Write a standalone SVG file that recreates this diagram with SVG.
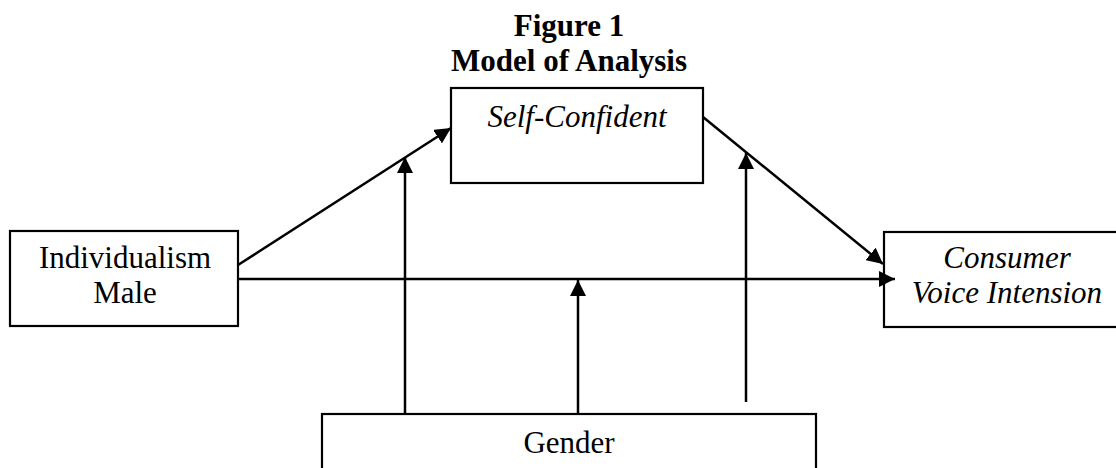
<svg xmlns="http://www.w3.org/2000/svg" width="1116" height="468" viewBox="0 0 1116 468">
<style>
.box{fill:#fff;stroke:#000;stroke-width:2.2}
.t{font-family:'Liberation Serif','Times New Roman',serif;font-size:31px;fill:#000;text-anchor:middle}
.b{font-weight:bold}
.i{font-style:italic}
.c{stroke:#000;stroke-width:2.5;fill:none;marker-end:url(#ah)}
</style>
<defs>
<marker id="ah" markerUnits="userSpaceOnUse" viewBox="0 0 16 16" markerWidth="16" markerHeight="16" refX="16" refY="8" orient="auto">
<path d="M0,0 L16,8 L0,16 z" fill="#000"/>
</marker>
</defs>
<rect width="1116" height="468" fill="#fff"/>
<g id="title">
<text class="t b" x="569" y="36">Figure 1</text>
<text class="t b" x="569" y="71">Model of Analysis</text>
</g>
<g id="self-confident">
<rect class="box" x="451" y="88" width="252" height="95"/>
<text class="t i" x="577" y="127">Self-Confident</text>
</g>
<g id="individualism">
<rect class="box" x="10" y="231" width="228" height="95"/>
<text class="t" x="125" y="268">Individualism</text>
<text class="t" x="125" y="303">Male</text>
</g>
<g id="consumer">
<rect class="box" x="884" y="232" width="240" height="95"/>
<text class="t i" x="1007" y="268">Consumer</text>
<text class="t i" x="1007" y="303">Voice Intension</text>
</g>
<g id="gender">
<rect class="box" x="322" y="414" width="494" height="70"/>
<text class="t" x="569" y="453">Gender</text>
</g>
<g id="connectors">
<line class="c" x1="238" y1="265" x2="451" y2="128"/>
<line class="c" x1="703" y1="117" x2="883" y2="264"/>
<line class="c" x1="238" y1="279" x2="895" y2="279"/>
<line class="c" x1="405" y1="414" x2="405" y2="157"/>
<line class="c" x1="578" y1="414" x2="578" y2="280"/>
<line class="c" x1="746" y1="402" x2="746" y2="153"/>
</g>
</svg>
